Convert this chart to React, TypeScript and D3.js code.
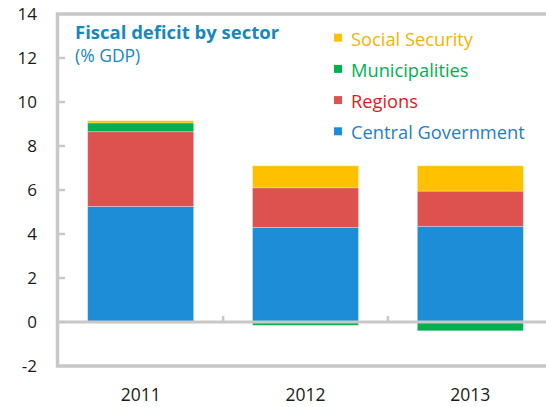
import React from "react";
import * as d3 from "d3";

const years = ["2011", "2012", "2013"];
const sectors = ["Central Government", "Regions", "Municipalities", "Social Security"];
const centralGov = [5.25, 4.3, 4.35];
const regions = [3.4, 1.8, 1.6];
const municipalities = [0.4, -0.15, -0.4];
const socialSecurity = [0.1, 1.0, 1.15];
const yTicks = [-2, 0, 2, 4, 6, 8, 10, 12, 14];

const barColors: Record<string, string> = {
  "Central Government": "#1e8dd7",
  Regions: "#dd524e",
  Municipalities: "#00b04f",
  "Social Security": "#ffc000",
};
const textColors: Record<string, string> = {
  "Central Government": "#1f7dcc",
  Regions: "#e3171c",
  Municipalities: "#00b050",
  "Social Security": "#f2b400",
};
// legend is listed top-down in reverse stack order
const legendOrder = ["Social Security", "Municipalities", "Regions", "Central Government"];

const W = 546;
const H = 407;
const font = "'Open Sans', 'Noto Sans', sans-serif";
const gray = "#c8c8c8";

export default function App() {
  const rows = years.map((yr, i) => ({
    year: yr,
    "Central Government": centralGov[i],
    Regions: regions[i],
    Municipalities: municipalities[i],
    "Social Security": socialSecurity[i],
  }));

  const stacked = d3.stack<any>().keys(sectors).offset(d3.stackOffsetDiverging)(rows);

  const x = d3.scaleBand().domain(years).range([58, 553]).paddingInner(0.357).paddingOuter(0.18);
  const y = d3.scaleLinear().domain([-2, 14]).range([366, 14]);

  const left = 57.5;
  const bw = x.bandwidth();
  const gap = x.step() - bw;
  const separators = years.slice(1).map((yr) => (x(yr) as number) - gap / 2);

  return (
    <svg width={W} height={H} style={{ position: "absolute", left: 0, top: 0, background: "#fff" }}>
      {/* frame */}
      <path
        d={`M${W + 5},${y(14)} H${left} V${y(-2)} H${W + 5}`}
        fill="none"
        stroke={gray}
        strokeWidth={3.5}
      />
      {/* y ticks inside */}
      {yTicks.map((t) => (
        <g key={t}>
          {t > -2 && t < 14 && (
            <line x1={left} x2={65} y1={y(t)} y2={y(t)} stroke={gray} strokeWidth={2.5} />
          )}
          <text
            x={37}
            y={y(t)}
            dy="0.36em"
            textAnchor="end"
            fontFamily={font}
            fontSize={17}
            fill="#1a1a1a"
          >
            {t}
          </text>
        </g>
      ))}

      {/* bars */}
      {stacked.map((s) => (
        <g key={s.key} fill={barColors[s.key]}>
          {s.map((d: any) => (
            <rect
              key={d.data.year}
              x={x(d.data.year)}
              width={bw}
              y={y(Math.max(d[0], d[1]))}
              height={Math.abs(y(d[0]) - y(d[1]))}
              stroke="#ffffff"
              strokeOpacity={0.35}
              strokeWidth={0.8}
            />
          ))}
        </g>
      ))}

      {/* zero line + category separators */}
      <line x1={left} x2={W} y1={y(0)} y2={y(0)} stroke={gray} strokeWidth={3} />
      {separators.map((sx) => (
        <line key={sx} x1={sx} x2={sx} y1={y(0)} y2={y(0) - 6} stroke={gray} strokeWidth={2.5} />
      ))}

      {/* x labels */}
      {years.map((yr) => (
        <text
          key={yr}
          x={(x(yr) as number) + bw / 2}
          y={401}
          textAnchor="middle"
          fontFamily={font}
          fontSize={17.5}
          fill="#1a1a1a"
        >
          {yr}
        </text>
      ))}

      {/* title */}
      <text x={75} y={39} fontFamily={font} fontSize={18.5} fontWeight="bold" fill="#1588be">
        Fiscal deficit by sector
      </text>
      <text x={75} y={61.5} fontFamily={font} fontSize={17.5} fill="#1588be">
        (% GDP)
      </text>

      {/* legend */}
      {legendOrder.map((k, i) => {
        const by = 45.7 + i * 31.2;
        return (
          <g key={k}>
            <rect x={334} y={by - 12} width={8} height={8} fill={barColors[k]} />
            <text x={351} y={by} fontFamily={font} fontSize={18.3} fill={textColors[k]}>
              {k}
            </text>
          </g>
        );
      })}
    </svg>
  );
}
